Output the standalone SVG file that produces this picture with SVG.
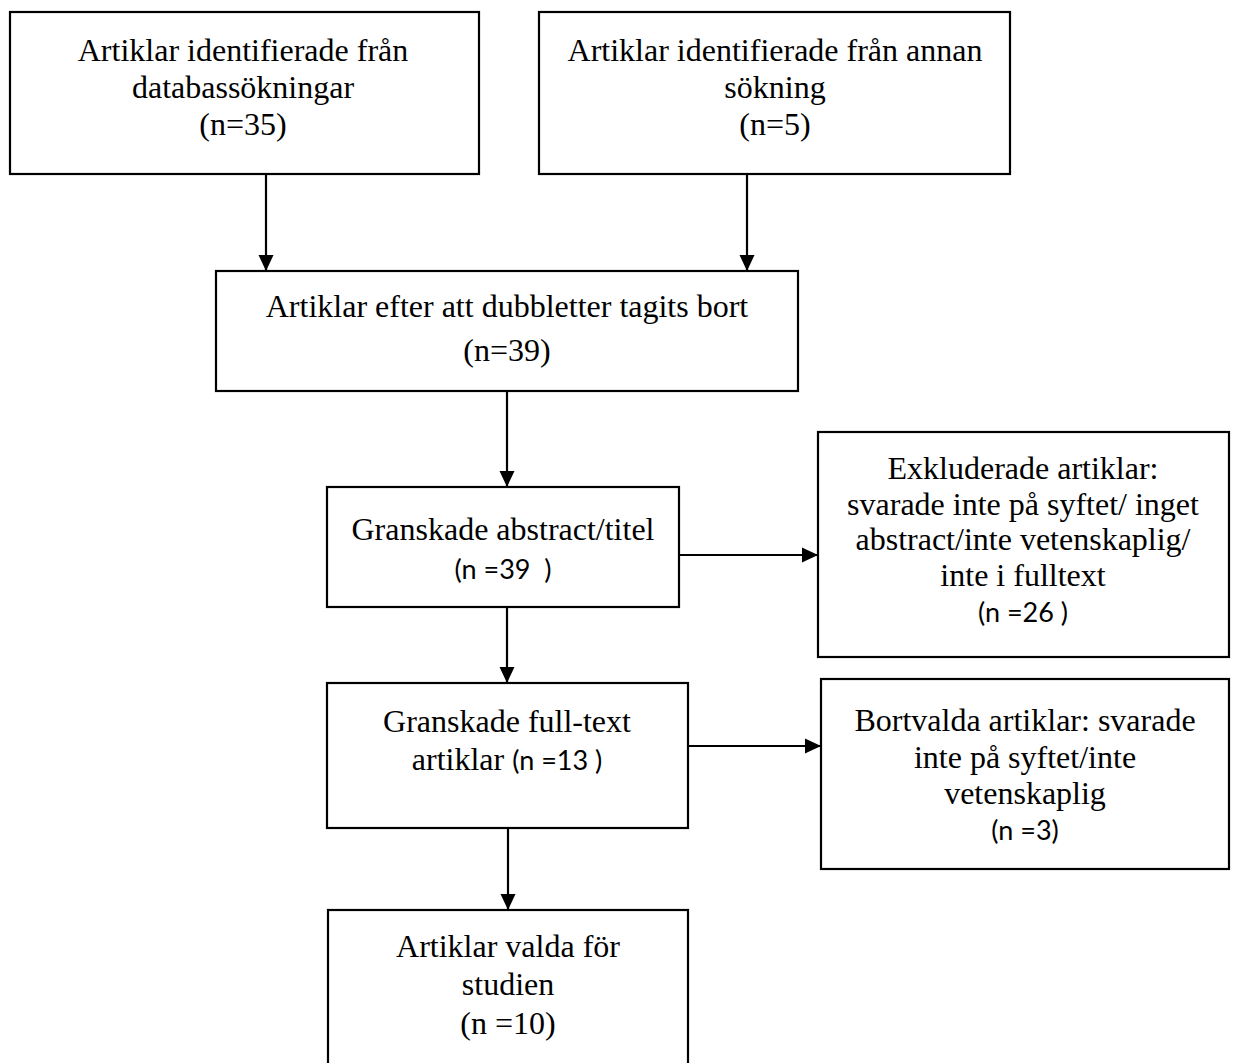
<svg xmlns="http://www.w3.org/2000/svg" width="1233" height="1063" viewBox="0 0 1233 1063">
<style>
.box{fill:#fff;stroke:#000;stroke-width:2.2}
.t{font-family:"Liberation Serif","Times New Roman",serif;font-size:32px;fill:#000;text-anchor:middle}
.c{font-family:Lato,"Open Sans",sans-serif;font-size:27px}
.cl{font-family:Lato,"Open Sans",sans-serif;font-size:27px;fill:#000;text-anchor:middle;white-space:pre}
.ln{stroke:#000;stroke-width:2.2;fill:none}
</style>
<defs>
<marker id="ah" markerUnits="userSpaceOnUse" markerWidth="16" markerHeight="16" refX="16" refY="8" orient="auto">
<path d="M0,0.5 L16,8 L0,15.5 z" fill="#000"/>
</marker>
</defs>
<rect width="1233" height="1063" fill="#fff"/>
<g id="connectors">
<line class="ln" x1="266" y1="174" x2="266" y2="271" marker-end="url(#ah)"/>
<line class="ln" x1="747" y1="174" x2="747" y2="271" marker-end="url(#ah)"/>
<line class="ln" x1="507" y1="391" x2="507" y2="487" marker-end="url(#ah)"/>
<line class="ln" x1="679" y1="555" x2="818" y2="555" marker-end="url(#ah)"/>
<line class="ln" x1="507" y1="607" x2="507" y2="683" marker-end="url(#ah)"/>
<line class="ln" x1="688" y1="746" x2="821" y2="746" marker-end="url(#ah)"/>
<line class="ln" x1="508" y1="828" x2="508" y2="910" marker-end="url(#ah)"/>
</g>
<g id="n1">
<rect class="box" x="10" y="12" width="469" height="162"/>
<text class="t" x="243" y="61">Artiklar identifierade från</text>
<text class="t" x="243" y="98">databassökningar</text>
<text class="t" x="243" y="135">(n=35)</text>
</g>
<g id="n2">
<rect class="box" x="539" y="12" width="471" height="162"/>
<text class="t" x="775" y="61">Artiklar identifierade från annan</text>
<text class="t" x="775" y="98">sökning</text>
<text class="t" x="775" y="135">(n=5)</text>
</g>
<g id="n3">
<rect class="box" x="216" y="271" width="582" height="120"/>
<text class="t" x="507" y="317">Artiklar efter att dubbletter tagits bort</text>
<text class="t" x="507" y="361">(n=39)</text>
</g>
<g id="n4">
<rect class="box" x="327" y="487" width="352" height="120"/>
<text class="t" x="503" y="540">Granskade abstract/titel</text>
<text class="cl" x="503" y="579">(n =39  )</text>
</g>
<g id="n5">
<rect class="box" x="818" y="432" width="411" height="225"/>
<text class="t" x="1023" y="479">Exkluderade artiklar:</text>
<text class="t" x="1023" y="515">svarade inte på syftet/ inget</text>
<text class="t" x="1023" y="550">abstract/inte vetenskaplig/</text>
<text class="t" x="1023" y="586">inte i fulltext</text>
<text class="cl" x="1023" y="622">(n =26 )</text>
</g>
<g id="n6">
<rect class="box" x="327" y="683" width="361" height="145"/>
<text class="t" x="507" y="732">Granskade full-text</text>
<text class="t" x="507" y="770" style="white-space:pre">artiklar <tspan class="c">(n =13 )</tspan></text>
</g>
<g id="n7">
<rect class="box" x="821" y="679" width="408" height="190"/>
<text class="t" x="1025" y="731">Bortvalda artiklar: svarade</text>
<text class="t" x="1025" y="768">inte på syftet/inte</text>
<text class="t" x="1025" y="804">vetenskaplig</text>
<text class="cl" x="1025" y="840">(n =3)</text>
</g>
<g id="n8">
<rect class="box" x="328" y="910" width="360" height="170"/>
<text class="t" x="508" y="957">Artiklar valda för</text>
<text class="t" x="508" y="995">studien</text>
<text class="t" x="508" y="1034">(n =10)</text>
</g>
</svg>
